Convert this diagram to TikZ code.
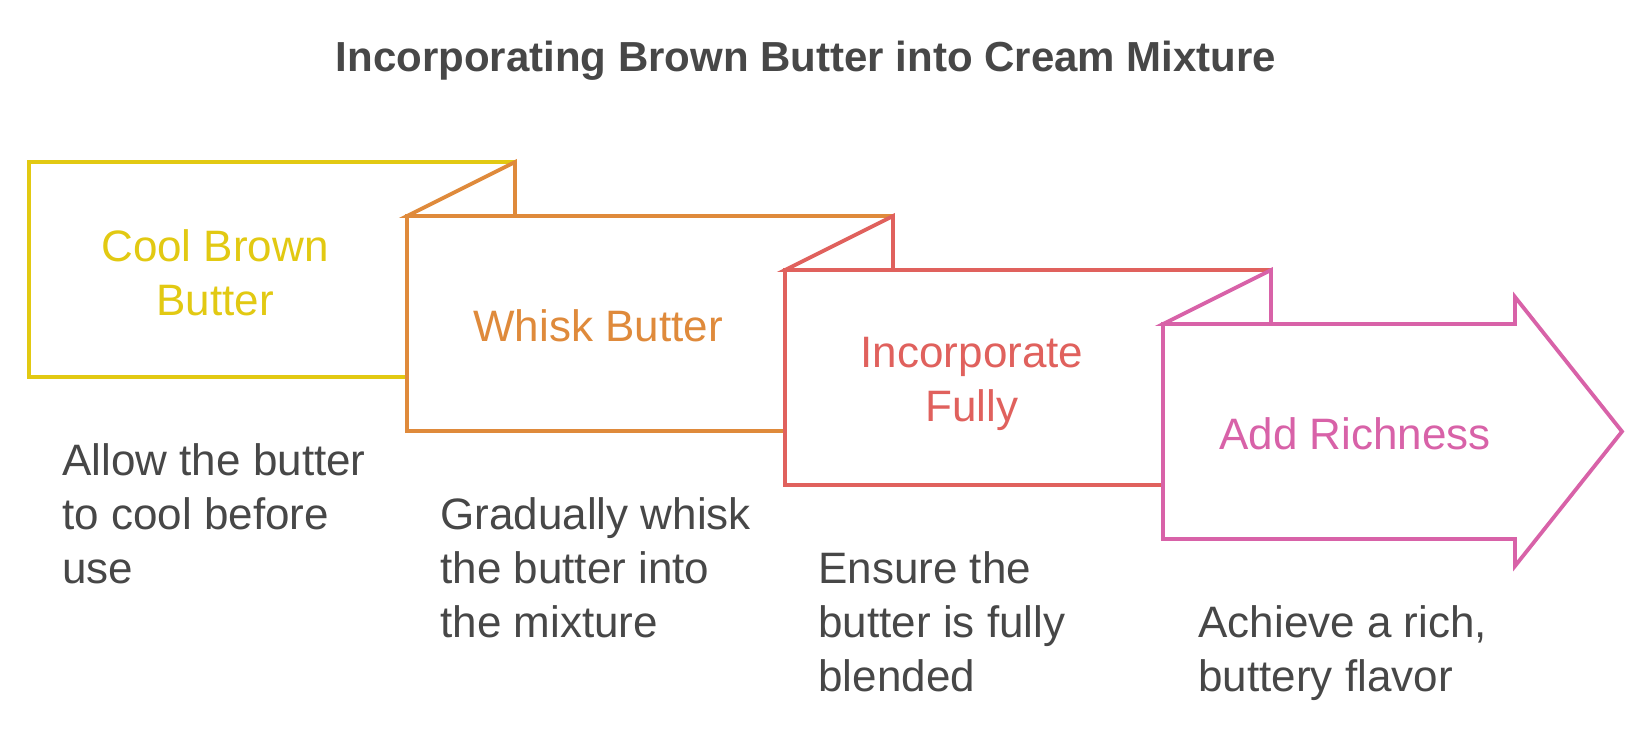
\documentclass[tikz,border=0pt]{standalone}
\usepackage{fontspec}
\setmainfont{Liberation Sans}
\usetikzlibrary{positioning}

\definecolor{butteryellow}{HTML}{E2C912}
\definecolor{butterorange}{HTML}{DF8A3B}
\definecolor{butterred}{HTML}{E0615D}
\definecolor{butterpink}{HTML}{D862A8}
\definecolor{notegray}{HTML}{474747}

\begin{document}
\begin{tikzpicture}
    [x=0.5pt,y=-0.5pt,
    panel/.style={draw=#1,fill=white,line width=1.9pt,line join=miter},
    caption/.style={text=#1,font=\fontsize{22}{27}\selectfont,
    align=center,inner sep=0pt,anchor=north},
    note/.style={text=notegray,font=\fontsize{22}{27}\selectfont,
    align=left,inner sep=0pt,anchor=north west},
    heading/.style={text=notegray,font=\bfseries\fontsize{21}{26}\selectfont,
    inner sep=0pt,anchor=base}]
    \useasboundingbox (0,0) rectangle (1652,729);
    \node[heading] (title) at (806,71) {Incorporating Brown Butter into Cream Mixture};
    % panels, back to front
    \draw[panel=butteryellow] (29,162) rectangle (515,377);
    \draw[panel=butterorange] (407,216) -- (515,162) -- (515,216) -- cycle;
    \draw[panel=butterorange] (407,216) rectangle (893,431);
    \draw[panel=butterred] (785,270) -- (893,216) -- (893,270) -- cycle;
    \draw[panel=butterred] (785,270) rectangle (1271,485);
    \draw[panel=butterpink] (1163,324) -- (1271,270) -- (1271,324) -- cycle;
    \draw[panel=butterpink] (1163,324) -- (1515,324) -- (1515,297) -- (1622,431.5)
        -- (1515,566) -- (1515,539) -- (1163,539) -- cycle;
    % step names
    \node[caption=butteryellow] (cool) at (215,229.5) {Cool Brown\\Butter};
    \node[caption=butterorange] (whisk) at (598,309.5) {Whisk Butter};
    \node[caption=butterred] (incorporate) at (972,336.5) {Incorporate\\Fully};
    \node[caption=butterpink] (richness) at (1355,417.5) {Add Richness};
    % notes under the panels
    \node[note] (cool note) at (62,443.5) {Allow the butter\\to cool before\\use};
    \node[note] (whisk note) at (440,497.5) {Gradually whisk\\the butter into\\the mixture};
    \node[note] (incorporate note) at (818,551.5) {Ensure the\\butter is fully\\blended};
    \node[note] (richness note) at (1198,605.5) {Achieve a rich,\\buttery flavor};
\end{tikzpicture}
\end{document}
